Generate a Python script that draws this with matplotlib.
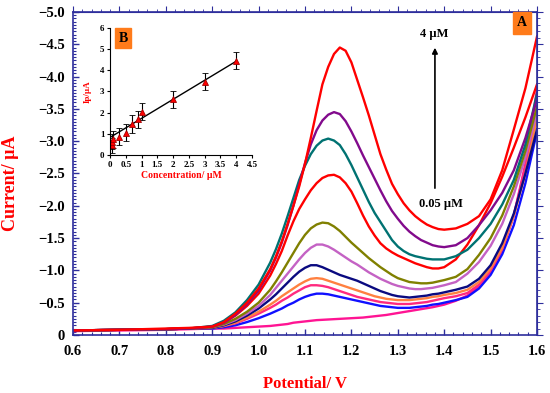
import numpy as np
import matplotlib
matplotlib.use("Agg")
import matplotlib.pyplot as plt
from matplotlib.ticker import MultipleLocator, FuncFormatter, NullFormatter

plt.rcParams['font.family'] = ['Liberation Serif', 'DejaVu Serif']
plt.rcParams['font.weight'] = 'bold'

# DATA (main panel: DPV curves, current in uA, plotted as negative values)

potential = [0.60, 0.70, 0.80, 0.85, 0.90, 0.925, 0.95, 0.975, 1.00,
             1.025, 1.0375, 1.05, 1.0625, 1.075, 1.0875, 1.10, 1.1125, 1.125, 1.1375,
             1.15, 1.1625, 1.175, 1.1875, 1.20, 1.2125, 1.225, 1.2375, 1.25, 1.2625,
             1.275, 1.2875, 1.30, 1.3125, 1.325, 1.3375, 1.35, 1.3625, 1.375, 1.3875,
             1.40, 1.425, 1.45, 1.475, 1.50, 1.525, 1.55, 1.575, 1.60]

red_top = [-0.07, -0.08, -0.10, -0.11, -0.13, -0.20, -0.33, -0.50, -0.72,
           -1.02, -1.22, -1.45, -1.72, -2.00, -2.30, -2.65, -3.05, -3.47, -3.88,
           -4.15, -4.35, -4.45, -4.40, -4.22, -3.95, -3.68, -3.40, -3.10, -2.80,
           -2.56, -2.34, -2.18, -2.04, -1.93, -1.84, -1.77, -1.71, -1.67, -1.64,
           -1.63, -1.65, -1.72, -1.84, -2.10, -2.55, -3.18, -3.82, -4.62]
purple = [-0.07, -0.08, -0.09, -0.10, -0.13, -0.19, -0.31, -0.48, -0.69,
          -1.00, -1.20, -1.43, -1.70, -2.00, -2.33, -2.66, -2.95, -3.17, -3.32,
          -3.41, -3.45, -3.42, -3.31, -3.15, -2.97, -2.78, -2.60, -2.42, -2.24,
          -2.07, -1.92, -1.80, -1.69, -1.60, -1.53, -1.47, -1.43, -1.39, -1.37,
          -1.36, -1.39, -1.50, -1.70, -1.93, -2.20, -2.55, -3.05, -3.65]
teal = [-0.07, -0.08, -0.09, -0.10, -0.14, -0.22, -0.35, -0.54, -0.78,
        -1.12, -1.33, -1.57, -1.84, -2.12, -2.40, -2.62, -2.80, -2.93, -3.01,
        -3.04, -3.01, -2.94, -2.80, -2.63, -2.44, -2.25, -2.06, -1.89, -1.75,
        -1.61, -1.47, -1.37, -1.30, -1.25, -1.22, -1.20, -1.18, -1.17, -1.17,
        -1.17, -1.22, -1.32, -1.50, -1.72, -2.02, -2.40, -2.95, -3.74]
red_low = [-0.07, -0.08, -0.09, -0.10, -0.13, -0.19, -0.30, -0.45, -0.64,
           -0.92, -1.10, -1.30, -1.54, -1.76, -1.95, -2.10, -2.24, -2.35, -2.43,
           -2.47, -2.48, -2.44, -2.35, -2.22, -2.04, -1.85, -1.68, -1.54, -1.42,
           -1.34, -1.28, -1.23, -1.19, -1.15, -1.11, -1.08, -1.05, -1.03, -1.03,
           -1.05, -1.17, -1.40, -1.70, -2.04, -2.45, -2.90, -3.37, -3.88]
olive = [-0.07, -0.08, -0.09, -0.10, -0.12, -0.17, -0.25, -0.36, -0.50,
         -0.70, -0.83, -0.97, -1.12, -1.27, -1.42, -1.55, -1.65, -1.71, -1.74,
         -1.73, -1.68, -1.61, -1.52, -1.43, -1.35, -1.27, -1.19, -1.12, -1.05,
         -0.99, -0.93, -0.88, -0.85, -0.82, -0.81, -0.80, -0.80, -0.81, -0.83,
         -0.85, -0.90, -1.02, -1.24, -1.50, -1.85, -2.30, -2.85, -3.54]
orchid = [-0.07, -0.08, -0.09, -0.10, -0.12, -0.16, -0.23, -0.33, -0.45,
          -0.62, -0.73, -0.84, -0.95, -1.06, -1.17, -1.27, -1.35, -1.40, -1.40,
          -1.37, -1.32, -1.26, -1.20, -1.14, -1.09, -1.03, -0.97, -0.92, -0.87,
          -0.83, -0.79, -0.76, -0.74, -0.72, -0.71, -0.71, -0.72, -0.73, -0.75,
          -0.77, -0.82, -0.95, -1.13, -1.38, -1.72, -2.18, -2.75, -3.45]
navy = [-0.07, -0.08, -0.09, -0.10, -0.11, -0.15, -0.21, -0.30, -0.41,
        -0.55, -0.63, -0.72, -0.81, -0.90, -0.98, -1.04, -1.08, -1.08, -1.05,
        -1.01, -0.97, -0.93, -0.90, -0.87, -0.84, -0.80, -0.76, -0.72, -0.68,
        -0.65, -0.62, -0.60, -0.59, -0.58, -0.59, -0.60, -0.61, -0.63, -0.64,
        -0.66, -0.70, -0.75, -0.87, -1.08, -1.42, -1.88, -2.50, -3.18]
orange = [-0.07, -0.08, -0.09, -0.10, -0.11, -0.14, -0.19, -0.27, -0.36,
          -0.47, -0.53, -0.60, -0.66, -0.72, -0.78, -0.83, -0.87, -0.88, -0.87,
          -0.84, -0.81, -0.78, -0.75, -0.72, -0.69, -0.66, -0.63, -0.60, -0.58,
          -0.56, -0.55, -0.54, -0.54, -0.54, -0.55, -0.56, -0.57, -0.59, -0.60,
          -0.62, -0.65, -0.70, -0.82, -1.03, -1.35, -1.85, -2.50, -3.35]
hot_pink = [-0.07, -0.08, -0.09, -0.10, -0.11, -0.14, -0.18, -0.25, -0.33,
            -0.42, -0.47, -0.53, -0.58, -0.64, -0.69, -0.74, -0.77, -0.77, -0.76,
            -0.74, -0.71, -0.68, -0.65, -0.62, -0.59, -0.57, -0.55, -0.53, -0.51,
            -0.50, -0.49, -0.48, -0.48, -0.48, -0.49, -0.50, -0.51, -0.53, -0.55,
            -0.57, -0.60, -0.65, -0.78, -1.00, -1.33, -1.85, -2.60, -3.50]
blue = [-0.07, -0.08, -0.09, -0.10, -0.10, -0.12, -0.15, -0.20, -0.26,
        -0.33, -0.37, -0.41, -0.46, -0.50, -0.55, -0.59, -0.62, -0.64, -0.64,
        -0.63, -0.61, -0.59, -0.57, -0.55, -0.53, -0.51, -0.49, -0.47, -0.45,
        -0.44, -0.43, -0.42, -0.42, -0.42, -0.43, -0.44, -0.45, -0.47, -0.48,
        -0.50, -0.54, -0.59, -0.72, -0.93, -1.25, -1.70, -2.35, -3.15]
blank = [-0.06, -0.07, -0.08, -0.09, -0.10, -0.10, -0.11, -0.12, -0.13,
         -0.14, -0.15, -0.16, -0.17, -0.19, -0.20, -0.21, -0.22, -0.23, -0.235,
         -0.24, -0.245, -0.25, -0.255, -0.26, -0.265, -0.27, -0.28, -0.29, -0.30,
         -0.31, -0.325, -0.34, -0.355, -0.37, -0.385, -0.40, -0.415, -0.43, -0.45,
         -0.47, -0.53, -0.61, -0.76, -0.98, -1.32, -1.85, -2.65, -3.80]

# inset (calibration plot)
conc = [0.05, 0.07, 0.1, 0.3, 0.5, 0.7, 0.9, 1.0, 2.0, 3.0, 4.0]
ip = [0.45, 0.62, 0.75, 0.87, 1.05, 1.45, 1.68, 2.05, 2.63, 3.47, 4.45]
ip_err = [0.35, 0.35, 0.40, 0.40, 0.40, 0.42, 0.40, 0.42, 0.40, 0.40, 0.40]
fit_slope = 0.90
fit_intercept = 0.83

# PLOT

curves = [
    (blank, "#ff1493"),
    (blue, "#1010ff"),
    (hot_pink, "#ff2a7f"),
    (orange, "#ff8040"),
    (navy, "#0a0a80"),
    (orchid, "#c462c4"),
    (olive, "#808000"),
    (red_low, "#ff0000"),
    (teal, "#007272"),
    (purple, "#820a8c"),
    (red_top, "#ff0000"),
]

fig = plt.figure(figsize=(5.5, 3.93), dpi=100)
ax = fig.add_axes([0.1327, 0.1476, 0.8437, 0.8219])

for values, col in curves:
    ax.plot(potential, values, color=col, lw=1.7, solid_joinstyle="round")

ax.set_xlim(0.6, 1.6)
ax.set_ylim(0, -5.0)

spine_col = "#2e2e9c"
for s in ax.spines.values():
    s.set_color(spine_col)
    s.set_linewidth(1.2)

ax.xaxis.set_major_locator(MultipleLocator(0.1))
ax.xaxis.set_minor_locator(MultipleLocator(0.02))
ax.yaxis.set_major_locator(MultipleLocator(0.5))
ax.yaxis.set_minor_locator(MultipleLocator(0.05))
ax.yaxis.set_major_formatter(FuncFormatter(
    lambda v, p: "0" if abs(v) < 1e-9 else f"{v:.1f}".replace("-", "\u2212")))
ax.xaxis.set_major_formatter(FuncFormatter(lambda v, p: f"{v:.1f}"))
ax.tick_params(which="both", direction="in", color=spine_col, labelsize=10.5)
ax.tick_params(which="major", length=4, width=1)
ax.tick_params(which="minor", length=2, width=0.8)
ax.tick_params(axis="x", pad=7)
ax.tick_params(axis="y", pad=6)

# top / right ticks point outwards
secx = ax.secondary_xaxis("top")
secx.xaxis.set_major_locator(MultipleLocator(0.1))
secx.xaxis.set_minor_locator(MultipleLocator(0.02))
secx.xaxis.set_major_formatter(NullFormatter())
secx.tick_params(which="both", direction="out", color=spine_col)
secx.tick_params(which="major", length=4)
secx.tick_params(which="minor", length=2)
secx.spines["top"].set_color(spine_col)
secy = ax.secondary_yaxis("right")
secy.yaxis.set_major_locator(MultipleLocator(0.5))
secy.yaxis.set_minor_locator(MultipleLocator(0.1))
secy.yaxis.set_major_formatter(NullFormatter())
secy.tick_params(which="both", direction="out", color=spine_col)
secy.tick_params(which="major", length=4)
secy.tick_params(which="minor", length=2)
secy.spines["right"].set_color(spine_col)

ax.set_xlabel("Potential/ V", color="#ff0000", fontsize=12, fontweight="bold", labelpad=13)
ax.set_ylabel("Current/ \u00b5A", color="#ff0000", fontsize=13, fontweight="bold")
ax.yaxis.set_label_coords(-0.117, 0.47)

ax.text(0.967, 0.966, "A", transform=ax.transAxes, ha="center", va="center",
        fontsize=10, fontweight="bold",
        bbox=dict(boxstyle="square,pad=0.3", fc="#ff7b1a", ec="#ff7b1a"))

ax.annotate("", xy=(1.38, -4.49), xytext=(1.38, -2.23),
            arrowprops=dict(arrowstyle="-|>", color="black", lw=1.2, mutation_scale=8))
ax.text(1.378, -4.66, "4 \u00b5M", ha="center", va="center", fontsize=9, fontweight="bold")
ax.text(1.393, -2.03, "0.05 \u00b5M", ha="center", va="center", fontsize=9, fontweight="bold")

# INSET

axi = fig.add_axes([0.2, 0.6056, 0.2582, 0.3232])
axi.patch.set_alpha(0)
fit_x = np.array([0, max(conc)])
axi.plot(fit_x, fit_slope * fit_x + fit_intercept, color="black", lw=1)
axi.errorbar(conc, ip, yerr=ip_err, fmt="^", color="black", ecolor="black",
             elinewidth=0.8, capsize=2, capthick=0.8,
             markerfacecolor="#ff0000", markeredgecolor="#a00000", markersize=4.5,
             markeredgewidth=0.6)
axi.set_xlim(0, 4.5)
axi.set_ylim(0, 6)
axi.xaxis.set_major_locator(MultipleLocator(0.5))
axi.yaxis.set_major_locator(MultipleLocator(1))
axi.xaxis.set_major_formatter(FuncFormatter(lambda v, p: f"{v:g}"))
axi.spines["top"].set_visible(False)
axi.spines["right"].set_visible(False)
axi.tick_params(labelsize=6.5, length=2.5, width=0.8, pad=1.5)
axi.set_xlabel("Concentration/ \u00b5M", color="#ff0000", fontsize=7, fontweight="bold", labelpad=2)
axi.set_ylabel("Ip/\u00b5A", color="#ff0000", fontsize=6.5, fontweight="bold", labelpad=6)

fig.text(0.2236, 0.9033, "B", ha="center", va="center", fontsize=10, fontweight="bold",
         bbox=dict(boxstyle="square,pad=0.25", fc="#ff7b1a", ec="#ff7b1a"))

fig.savefig("out.png", dpi=100)
